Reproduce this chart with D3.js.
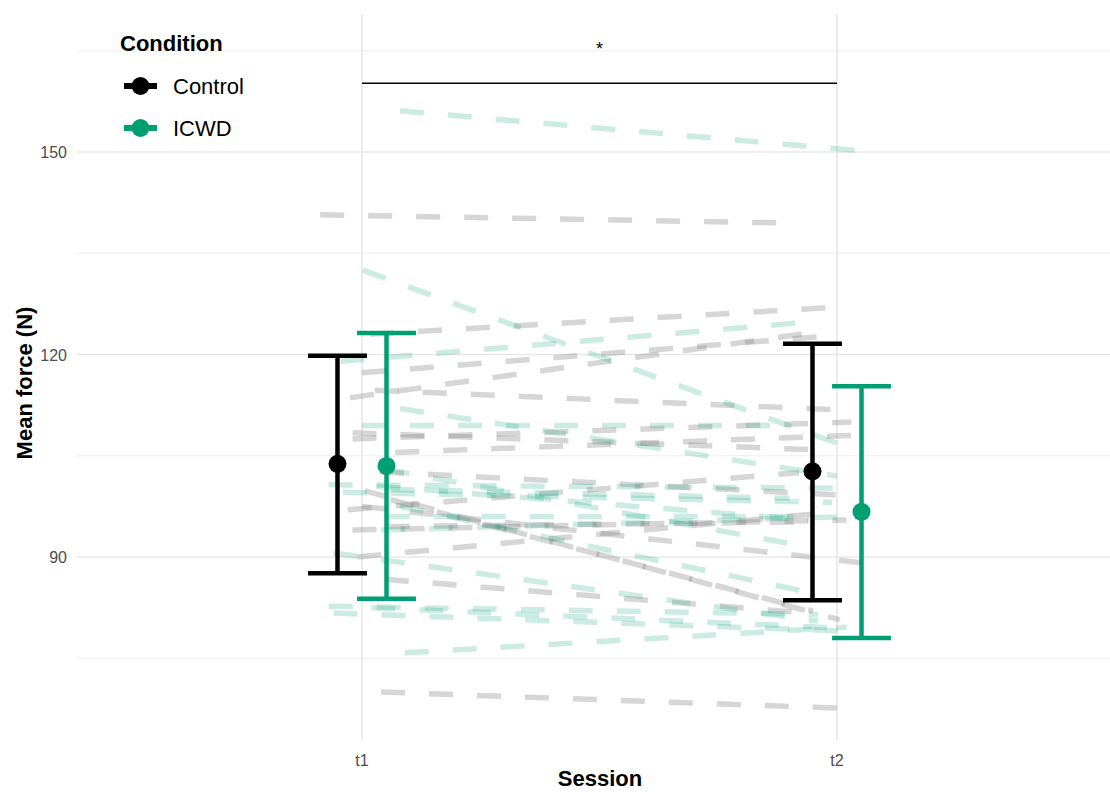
<!DOCTYPE html>
<html>
<head>
<meta charset="utf-8">
<script src="https://cdn.jsdelivr.net/npm/d3@7"></script>
<style>
  body { margin: 0; background: #fff; }
  svg { display: block; font-family: "Liberation Sans", Arial, sans-serif; }
</style>
</head>
<body>
<svg id="chart" width="1110" height="792"></svg>
<script>
// sessions and conditions
var sessions = ["t1", "t2"];
var conditions = ["Control", "ICWD"];
var condColors = ["#000000", "#009E73"];

// summary per condition (mean, lower, upper) at t1 / t2
var controlMean = [103.8, 102.7];
var controlLow = [87.6, 83.6];
var controlHigh = [119.8, 121.6];
var icwdMean = [103.5, 96.7];
var icwdLow = [83.8, 78.0];
var icwdHigh = [123.2, 115.3];

// individual subjects, t1 -> t2
var controlT1 = [140.7, 70.0, 123.0, 117.3, 113.6, 114.7, 107.5, 99.8, 94.0, 90.0, 86.7, 102.6, 97.0, 94.5, 97.5, 98.5, 108.4, 105.5];
var controlT2 = [139.5, 67.6, 127.0, 122.7, 123.2, 111.8, 110.0, 80.7, 95.5, 96.5, 81.6, 99.2, 102.5, 95.2, 89.0, 82.0, 105.9, 108.1];
var controlJit1 = [-0.088, 0.04, 0.017, 0.0, -0.025, 0.027, -0.02, 0.006, -0.02, -0.01, 0.048, 0.038, -0.03, 0.05, 0.0, 0.06, -0.02, 0.07];
var controlJit2 = [-0.12, 0.008, -0.004, -0.025, -0.057, 0.006, 0.03, 0.006, 0.02, -0.03, -0.046, 0.002, -0.08, -0.06, 0.07, -0.05, -0.05, 0.06];

var icwdT1 = [156.1, 132.5, 119.0, 112.0, 109.5, 100.7, 99.6, 100.5, 100.0, 90.6, 82.5, 82.7, 81.7, 75.8, 103.0, 94.0, 97.5, 96.0];
var icwdT2 = [150.2, 106.7, 124.7, 102.0, 109.5, 100.2, 98.1, 95.5, 98.7, 80.5, 79.5, 81.5, 79.0, 79.6, 92.0, 96.0, 84.5, 96.0];
var icwdJit1 = [0.08, 0.002, -0.045, 0.08, 0.0, -0.07, -0.04, 0.03, 0.06, -0.06, 0.02, -0.07, -0.06, 0.09, 0.05, 0.04, 0.08, 0.05];
var icwdJit2 = [0.048, 0.006, -0.08, 0.0, -0.1, 0.01, -0.01, -0.06, -0.1, -0.04, 0.0, -0.04, 0.03, 0.02, -0.1, 0.03, -0.04, -0.05];

var majorTicks = [90, 120, 150];
var minorTicks = [75, 105, 135, 165];
var sigLevel = 160.2;

var svg = d3.select("#chart");

var x = d3.scalePoint().domain(sessions).range([77, 1122]).padding(0.6);
var step = x.step();
var y = d3.scaleLinear().domain([62.89, 169.56]).range([740, 20]);
var dodge = 0.0516 * step, capHalf = 0.062 * step;

// grid
var grid = svg.append("g");
grid.selectAll(".minor").data(minorTicks).enter().append("line")
    .attr("x1", 77).attr("x2", 1122)
    .attr("y1", function (d) { return y(d); }).attr("y2", function (d) { return y(d); })
    .attr("stroke", "#ededed").attr("stroke-width", 1);
grid.selectAll(".major").data(majorTicks).enter().append("line")
    .attr("x1", 77).attr("x2", 1122)
    .attr("y1", function (d) { return y(d); }).attr("y2", function (d) { return y(d); })
    .attr("stroke", "#e8e8e8").attr("stroke-width", 1.6);
grid.selectAll(".vmajor").data(sessions).enter().append("line")
    .attr("x1", function (d) { return x(d); }).attr("x2", function (d) { return x(d); })
    .attr("y1", 14).attr("y2", 740)
    .attr("stroke", "#e8e8e8").attr("stroke-width", 1.6);

// subject lines
function subjects(t1, t2, j1, j2, color, op) {
    var rows = t1.map(function (v, i) {
        return [[x("t1") + j1[i] * step, y(v)], [x("t2") + j2[i] * step, y(t2[i])]];
    });
    svg.append("g").selectAll("path").data(rows).enter().append("path")
        .attr("d", d3.line())
        .attr("fill", "none")
        .attr("stroke", color)
        .attr("stroke-opacity", op)
        .attr("stroke-width", 5.5)
        .attr("stroke-dasharray", "24,24");
}
subjects(controlT1, controlT2, controlJit1, controlJit2, "#7f7f7f", 0.32);
subjects(icwdT1, icwdT2, icwdJit1, icwdJit2, "#009E73", 0.2);

// significance bar
svg.append("line")
    .attr("x1", x("t1")).attr("x2", x("t2"))
    .attr("y1", y(sigLevel)).attr("y2", y(sigLevel))
    .attr("stroke", "#000").attr("stroke-width", 1.5);
svg.append("text")
    .attr("x", (x("t1") + x("t2")) / 2).attr("y", 55)
    .attr("text-anchor", "middle").attr("font-size", 18).text("*");

// error bars + means
var summary = [
    { c: 0, mean: controlMean, low: controlLow, high: controlHigh, off: -dodge },
    { c: 1, mean: icwdMean, low: icwdLow, high: icwdHigh, off: dodge }
];
summary.forEach(function (s) {
    var g = svg.append("g").attr("stroke", condColors[s.c]).attr("fill", condColors[s.c]);
    sessions.forEach(function (t, i) {
        var cx = x(t) + s.off;
        g.append("line").attr("x1", cx).attr("x2", cx)
            .attr("y1", y(s.low[i])).attr("y2", y(s.high[i])).attr("stroke-width", 4.5);
        [s.low[i], s.high[i]].forEach(function (v) {
            g.append("line").attr("x1", cx - capHalf).attr("x2", cx + capHalf)
                .attr("y1", y(v)).attr("y2", y(v)).attr("stroke-width", 4.5);
        });
        g.append("circle").attr("cx", cx).attr("cy", y(s.mean[i])).attr("r", 9).attr("stroke", "none");
    });
});

// axes text
svg.selectAll(".ytick").data(majorTicks).enter().append("text")
    .attr("x", 67).attr("y", function (d) { return y(d) + 6; })
    .attr("text-anchor", "end").attr("font-size", 16).attr("fill", "#4d4d4d")
    .text(function (d) { return d; });
svg.selectAll(".xtick").data(sessions).enter().append("text")
    .attr("x", function (d) { return x(d); }).attr("y", 766)
    .attr("text-anchor", "middle").attr("font-size", 16).attr("fill", "#4d4d4d")
    .text(function (d) { return d; });
svg.append("text").attr("x", 600).attr("y", 786)
    .attr("text-anchor", "middle").attr("font-size", 22).attr("font-weight", "bold").text("Session");
svg.append("text").attr("transform", "translate(32,383) rotate(-90)")
    .attr("text-anchor", "middle").attr("font-size", 22).attr("font-weight", "bold").text("Mean force (N)");

// legend
var lg = svg.append("g");
lg.append("text").attr("x", 120).attr("y", 51).attr("font-size", 22).attr("font-weight", "bold").text("Condition");
conditions.forEach(function (c, i) {
    var ky = 86 + i * 42;
    lg.append("line").attr("x1", 124).attr("x2", 157).attr("y1", ky).attr("y2", ky)
        .attr("stroke", condColors[i]).attr("stroke-width", 6);
    lg.append("circle").attr("cx", 140.5).attr("cy", ky).attr("r", 9).attr("fill", condColors[i]);
    lg.append("text").attr("x", 173).attr("y", ky + 8).attr("font-size", 22).text(c);
});
</script>
</body>
</html>
